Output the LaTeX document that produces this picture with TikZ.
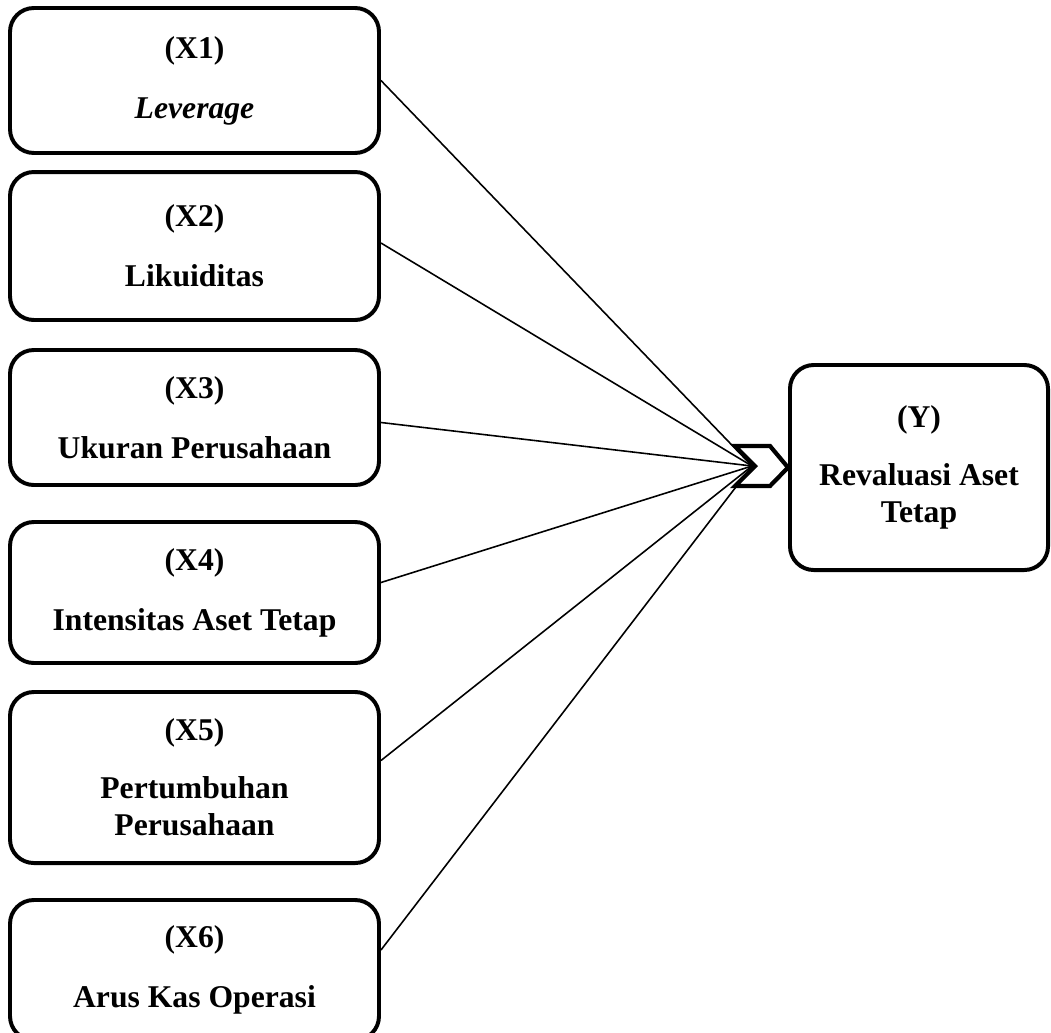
\documentclass[tikz,border=0pt]{standalone}
\usepackage{fontspec}
\setmainfont{Liberation Serif}
\usepackage{tikz}
\usetikzlibrary{positioning,calc}
\tikzset{
  varbox/.style={draw=black, line width=1.5pt, rounded corners=9pt, fill=white, align=center,
                 minimum width=4.915cm, font=\fontsize{12}{14}\selectfont\bfseries, inner sep=2pt},
  linkline/.style={draw=black, line width=0.6pt},
  chevbox/.style={draw=black, fill=white, line width=1.6pt, line join=miter}
}
\begin{document}
\begin{tikzpicture}[x=0.01332cm, y=-0.01332cm]
  \useasboundingbox (0,0) rectangle (1051,1032);
  % independent variables
  \node[varbox, minimum height=1.931cm] (X1) at (194.5,80.5) {(X1)\\[8.7pt]\textit{Leverage}};
  \node[varbox, minimum height=1.971cm] (X2) at (194.5,246) {(X2)\\[8.7pt]Likuiditas};
  \node[varbox, minimum height=1.798cm] (X3) at (194.5,417.5) {(X3)\\[8.7pt]Ukuran Perusahaan};
  \node[varbox, minimum height=1.878cm] (X4) at (194.5,592.5) {(X4)\\[8.7pt]Intensitas Aset Tetap};
  \node[varbox, minimum height=2.278cm] (X5) at (194.5,777.5) {(X5)\\[8pt]Pertumbuhan\\Perusahaan};
  \node[varbox, minimum height=1.865cm] (X6) at (194.5,970) {(X6)\\[8.7pt]Arus Kas Operasi};
  % dependent variable
  \node[varbox, minimum width=3.437cm, minimum height=2.731cm] (Y) at (919,467.5)
       {(Y)\\[8pt]Revaluasi Aset\\Tetap};
  \coordinate (hub) at (752,466);
  \foreach \n/\dy in {1/0,2/-3,3/5,4/-10,5/-17,6/-20}
    \draw[linkline] ($(X\n.east)+(0,\dy)$) -- (hub);
  % arrow head
  \draw[chevbox] (735,446) -- (770,446) -- (Y.west) -- (770,486) -- (735,486) -- (755,466) -- cycle;
\end{tikzpicture}
\end{document}
